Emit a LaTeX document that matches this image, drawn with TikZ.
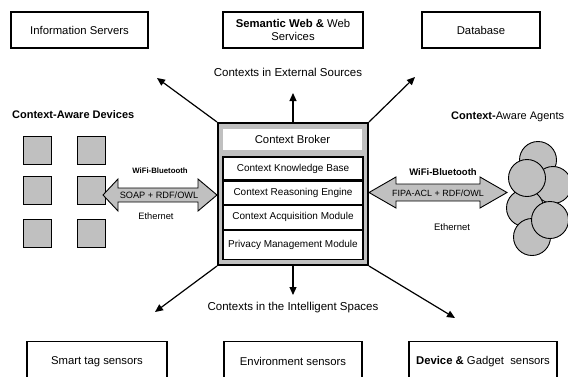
\documentclass[tikz,border=0pt]{standalone}
\usepackage{fontspec}
\setmainfont{Liberation Sans}
\usetikzlibrary{arrows.meta}
\definecolor{boxgray}{HTML}{C0C0C0}
\tikzset{
  outerbox/.style={draw=black, line width=1.2pt, fill=white, inner sep=2pt, align=center,
    font=\fontsize{11.3}{13}\selectfont},
  layerbox/.style={draw=black, line width=1.1pt, fill=white, inner sep=0pt,
    font=\fontsize{10}{11}\selectfont},
  lbl/.style={inner sep=0pt, font=\fontsize{11}{13}\selectfont},
  flowlbl/.style={inner sep=0pt, font=\fontsize{11.5}{13}\selectfont},
  small/.style={inner sep=0pt, font=\fontsize{9.3}{11}\selectfont},
  flow/.style={line width=1.2pt, -{Triangle[length=8pt,width=7pt]}},
  device/.style={draw=black, line width=0.8pt, fill=boxgray, minimum size=28pt, inner sep=0pt},
  agent/.style={draw=black, line width=0.9pt, fill=boxgray},
  linkarrow/.style={draw=black, line width=0.9pt, fill=boxgray}
}
\begin{document}
\begin{tikzpicture}[x=1pt, y=-1pt]
\useasboundingbox (0,0) rectangle (568,376);

% top boxes
\node[outerbox, minimum width=137pt, minimum height=36pt] (info) at (79.5,30) {Information Servers};
\node[outerbox, minimum width=140pt, minimum height=36pt] (sem) at (293,30) {\textbf{Semantic Web \&} Web\\Services};
\node[outerbox, minimum width=118pt, minimum height=36pt] (db) at (481,30) {Database};

% bottom boxes
\node[outerbox, minimum width=140pt, minimum height=40pt] (smart) at (97,361.5) {Smart tag sensors};
\node[outerbox, minimum width=138pt, minimum height=40pt] (env) at (293,361.5) {Environment sensors};
\node[outerbox, minimum width=148pt, minimum height=40pt] (dev) at (483,361.5) {\textbf{Device \&} Gadget\ \ sensors};

% broker
\node[draw=black, line width=2pt, fill=boxgray, minimum width=150pt, minimum height=142pt, inner sep=0pt] (broker) at (293,194) {};
\node[fill=white, minimum width=139pt, minimum height=21pt, inner sep=0pt, font=\fontsize{11.3}{12}\selectfont] (cb) at (292.5,139.5) {Context Broker};
\node[layerbox, minimum width=140pt, minimum height=23pt] (kb) at (293,168.5) {Context Knowledge Base};
\node[layerbox, minimum width=140pt, minimum height=23pt, anchor=north] (re) at (kb.south) {Context Reasoning Engine};
\node[layerbox, minimum width=140pt, minimum height=24pt, anchor=north] (am) at (re.south) {Context Acquisition Module};
\node[layerbox, minimum width=140pt, minimum height=29pt, anchor=north] (pm) at (am.south) {Privacy Management Module};

% flow arrows
\coordinate (tl) at (157,78);
\coordinate (tc) at (293,93);
\coordinate (tr) at (415,77);
\coordinate (bl) at (155,312);
\coordinate (bc) at (293,295);
\coordinate (br) at (455,318);
\draw[flow] (broker.north west) -- (tl);
\draw[flow] (broker.north) -- (tc);
\draw[flow] (broker.north east) -- (tr);
\draw[flow] (broker.south west) -- (bl);
\draw[flow] (broker.south) -- (bc);
\draw[flow] (broker.south east) -- (br);

\node[flowlbl] (ext) at (288,72) {Contexts in External Sources};
\node[flowlbl] (intl) at (293,308) {Contexts in the Intelligent Spaces};

% devices
\node[lbl, anchor=west] (devlbl) at (12,115) {\textbf{Context-Aware Devices}};
\node[device] (d1) at (37.5,150) {};
\node[device] (d2) at (91,150) {};
\node[device] (d3) at (37.5,190) {};
\node[device] (d4) at (91,190) {};
\node[device] (d5) at (37.5,233) {};
\node[device] (d6) at (91,233) {};

% left link arrow
\draw[linkarrow] (103,195) -- (118,179) -- (118,188) -- (198,188) -- (198,179) -- (217,195)
  -- (198,211) -- (198,202) -- (118,202) -- (118,211) -- cycle;
\node[small, font=\fontsize{7.8}{9}\selectfont] (lwifi) at (160,171) {\textbf{WiFi-Bluetooth}};
\node[small, font=\fontsize{9.2}{11}\selectfont] (soap) at (159,195) {SOAP + RDF/OWL};
\node[small] (leth) at (156,216) {Ethernet};

% right link arrow
\draw[linkarrow] (369,192.5) -- (396,177) -- (396,184) -- (480,184) -- (480,177) -- (507,192.5)
  -- (480,208) -- (480,201) -- (396,201) -- (396,208) -- cycle;
\node[small, font=\fontsize{9.5}{11}\selectfont] (rwifi) at (443,172) {\textbf{WiFi-Bluetooth}};
\node[small, font=\fontsize{9}{11}\selectfont] (fipa) at (438,193) {FIPA-ACL + RDF/OWL};
\node[small, font=\fontsize{9.5}{11}\selectfont] (reth) at (452,227) {Ethernet};

% agents
\node[lbl, anchor=west] (aglbl) at (451,117) {\textbf{Context-}Aware Agents};
\draw[agent] (538,160) circle (18.5pt);
\draw[agent] (553,185) circle (18.5pt);
\draw[agent] (525,208) circle (18.5pt);
\draw[agent] (532,237) circle (18.5pt);
\draw[agent] (527,178) circle (18.5pt);
\draw[agent] (550,220) circle (18.5pt);
\end{tikzpicture}
\end{document}
